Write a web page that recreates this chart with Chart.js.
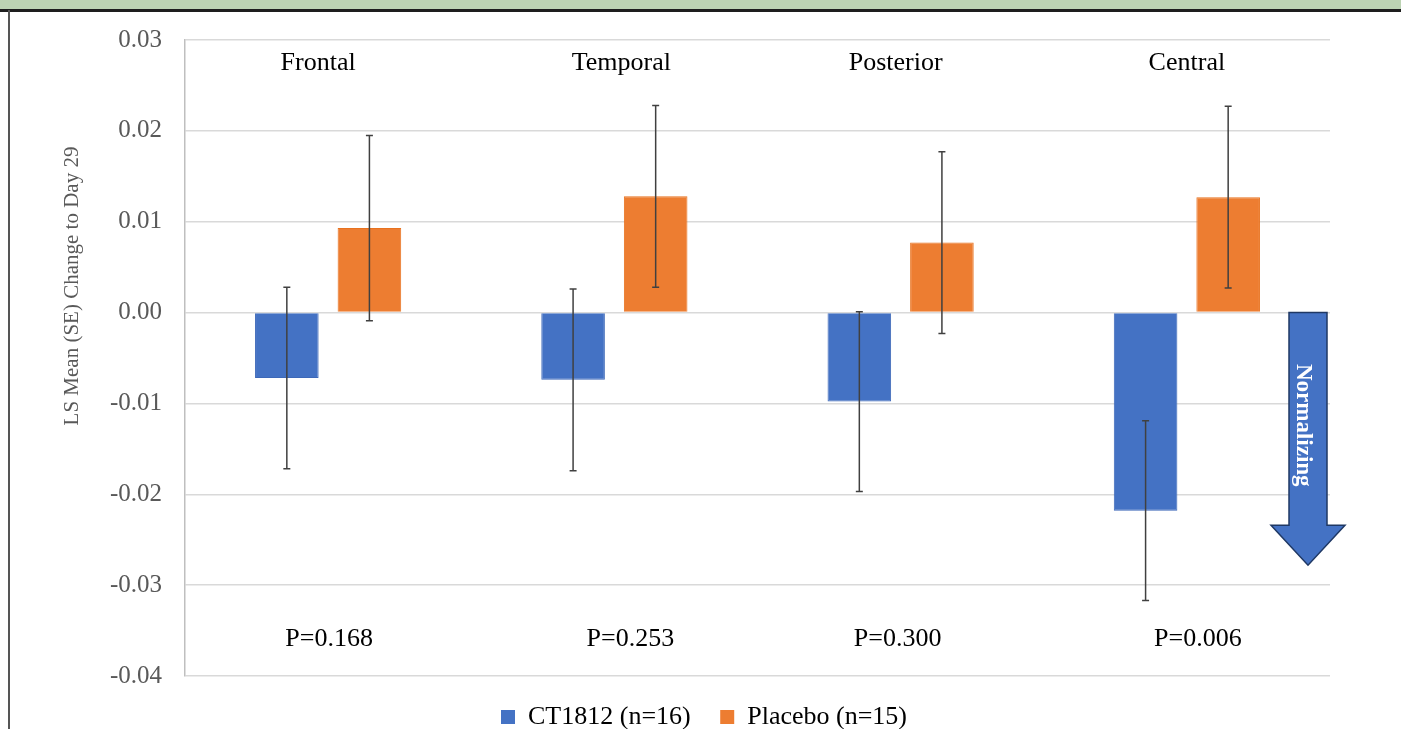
<!DOCTYPE html>
<html>
<head>
<meta charset="utf-8">
<script src="https://cdn.jsdelivr.net/npm/chart.js@4/dist/chart.umd.min.js"></script>
<style>
  html, body { margin: 0; padding: 0; background: #fff; overflow: hidden; }
  #wrap { position: absolute; left: 0; top: 0; width: 1401px; height: 740px; }
</style>
</head>
<body>
<div id="wrap"><canvas id="barChart" width="1401" height="740"></canvas></div>
<script>
  const regions = ['Frontal', 'Temporal', 'Posterior', 'Central'];
  const ct1812 = [-0.0072, -0.0074, -0.0098, -0.0218];
  const ct1812Se = [0.0100, 0.0100, 0.0099, 0.0099];
  const placebo = [0.0093, 0.0128, 0.0077, 0.0127];
  const placeboSe = [0.0102, 0.0100, 0.0100, 0.0100];
  const pValues = ['P=0.168', 'P=0.253', 'P=0.300', 'P=0.006'];
  const yTicks = [0.03, 0.02, 0.01, 0.00, -0.01, -0.02, -0.03, -0.04];

  const serif = '"Liberation Serif", "Times New Roman", serif';

  // slide frame, y title, region names, p-values
  const decorations = {
    id: 'decorations',
    afterLayout(chart) {
      // legend is centred on the whole slide, not on the padded area
      chart.legend.left += 34;
      chart.legend.right += 34;
    },
    beforeDraw(chart) {
      const c = chart.ctx;
      c.save();
      c.fillStyle = '#bcd3b3';
      c.fillRect(0, 0, chart.width, 10);
      c.fillStyle = '#1e1e1e';
      c.fillRect(0, 9, chart.width, 3);
      c.fillStyle = '#555';
      c.fillRect(8, 10, 2, chart.height);
      c.restore();
    },
    afterDraw(chart) {
      const c = chart.ctx;
      const x = chart.scales.x, y = chart.scales.y;
      c.save();
      c.fillStyle = '#595959';
      c.font = '21px ' + serif;
      c.textAlign = 'center';
      c.textBaseline = 'middle';
      c.translate(72, 286);
      c.rotate(-Math.PI / 2);
      c.fillText('LS Mean (SE) Change to Day 29', 0, 0);
      c.restore();

      // labels sit a little off the category centres in the original
      const nameNudge = [-10, 7, -5, 0];
      const pNudge = [1, 16, -3, 11];
      c.save();
      c.fillStyle = '#000';
      c.font = '26px ' + serif;
      c.textAlign = 'center';
      c.textBaseline = 'middle';
      regions.forEach((r, i) => {
        const cx = x.getPixelForValue(i);
        c.fillText(r, cx + nameNudge[i], y.getPixelForValue(0.0274));
        c.fillText(pValues[i], cx + pNudge[i], y.getPixelForValue(-0.0359));
      });
      c.restore();
    }
  };

  const errorBars = {
    id: 'errorBars',
    afterDatasetsDraw(chart) {
      const c = chart.ctx;
      const y = chart.scales.y;
      const se = [ct1812Se, placeboSe];
      c.save();
      c.strokeStyle = '#404040';
      c.lineWidth = 1.5;
      chart.data.datasets.forEach((ds, d) => {
        chart.getDatasetMeta(d).data.forEach((bar, i) => {
          const top = y.getPixelForValue(ds.data[i] + se[d][i]);
          const bot = y.getPixelForValue(ds.data[i] - se[d][i]);
          c.beginPath();
          c.moveTo(bar.x, top); c.lineTo(bar.x, bot);
          c.moveTo(bar.x - 3.5, top); c.lineTo(bar.x + 3.5, top);
          c.moveTo(bar.x - 3.5, bot); c.lineTo(bar.x + 3.5, bot);
          c.stroke();
        });
      });
      c.restore();
    }
  };

  const arrow = {
    id: 'arrow',
    afterDraw(chart) {
      const c = chart.ctx;
      const y = chart.scales.y;
      const cx = chart.chartArea.right - 22;
      const top = y.getPixelForValue(0);
      const neck = y.getPixelForValue(-0.0234);
      const tip = y.getPixelForValue(-0.0278);
      c.save();
      c.beginPath();
      c.moveTo(cx - 19, top);
      c.lineTo(cx + 19, top);
      c.lineTo(cx + 19, neck);
      c.lineTo(cx + 37, neck);
      c.lineTo(cx, tip);
      c.lineTo(cx - 37, neck);
      c.lineTo(cx - 19, neck);
      c.closePath();
      c.fillStyle = '#4472c4';
      c.fill();
      c.strokeStyle = '#1f3864';
      c.lineWidth = 1.5;
      c.stroke();
      c.fillStyle = '#fff';
      c.font = 'bold 23px ' + serif;
      c.textAlign = 'center';
      c.textBaseline = 'middle';
      c.translate(cx - 5, y.getPixelForValue(-0.0124));
      c.rotate(Math.PI / 2);
      c.fillText('Normalizing', 0, 0);
      c.restore();
    }
  };

  const ctx = document.getElementById('barChart').getContext('2d');
  const chart = new Chart(ctx, {
    type: 'bar',
    data: {
      labels: regions,
      datasets: [{
        label: 'CT1812 (n=16)',
        data: ct1812,
        backgroundColor: '#4472c4',
        borderColor: '#3d68b8',
        borderWidth: 1
      }, {
        label: 'Placebo (n=15)',
        data: placebo,
        backgroundColor: '#ed7d31',
        borderColor: '#e8721f',
        borderWidth: 1
      }]
    },
    options: {
      responsive: false,
      animation: false,
      categoryPercentage: 0.577,
      barPercentage: 0.77,
      layout: {
        padding: { left: 10, right: 71, top: 40, bottom: 0 }
      },
      scales: {
        x: {
          grid: { display: false },
          border: { display: false },
          ticks: { display: false },
          afterFit(s) { s.height = 18; }
        },
        y: {
          min: -0.04,
          max: 0.03,
          afterBuildTicks(s) { s.ticks = yTicks.map(v => ({ value: v })); },
          afterFit(s) { s.width = 175; },
          ticks: {
            color: '#595959',
            padding: 23,
            font: { family: serif, size: 25 },
            callback: v => v.toFixed(2)
          },
          grid: {
            color: '#d9d9d9',
            lineWidth: 1.5,
            drawTicks: false
          },
          border: { display: true, color: '#bfbfbf', width: 1.5 }
        }
      },
      plugins: {
        legend: {
          position: 'bottom',
          labels: {
            color: '#404040',
            boxWidth: 14,
            boxHeight: 14,
            padding: 10,
            font: { family: serif, size: 26 },
            generateLabels(ch) {
              return ch.data.datasets.map((ds, i) => ({
                text: ds.label + (i === 0 ? '   ' : ''),
                fillStyle: ds.backgroundColor,
                strokeStyle: ds.backgroundColor,
                lineWidth: 0,
                datasetIndex: i
              }));
            }
          }
        },
        tooltip: { enabled: false }
      }
    },
    plugins: [decorations, errorBars, arrow]
  });
</script>
</body>
</html>
